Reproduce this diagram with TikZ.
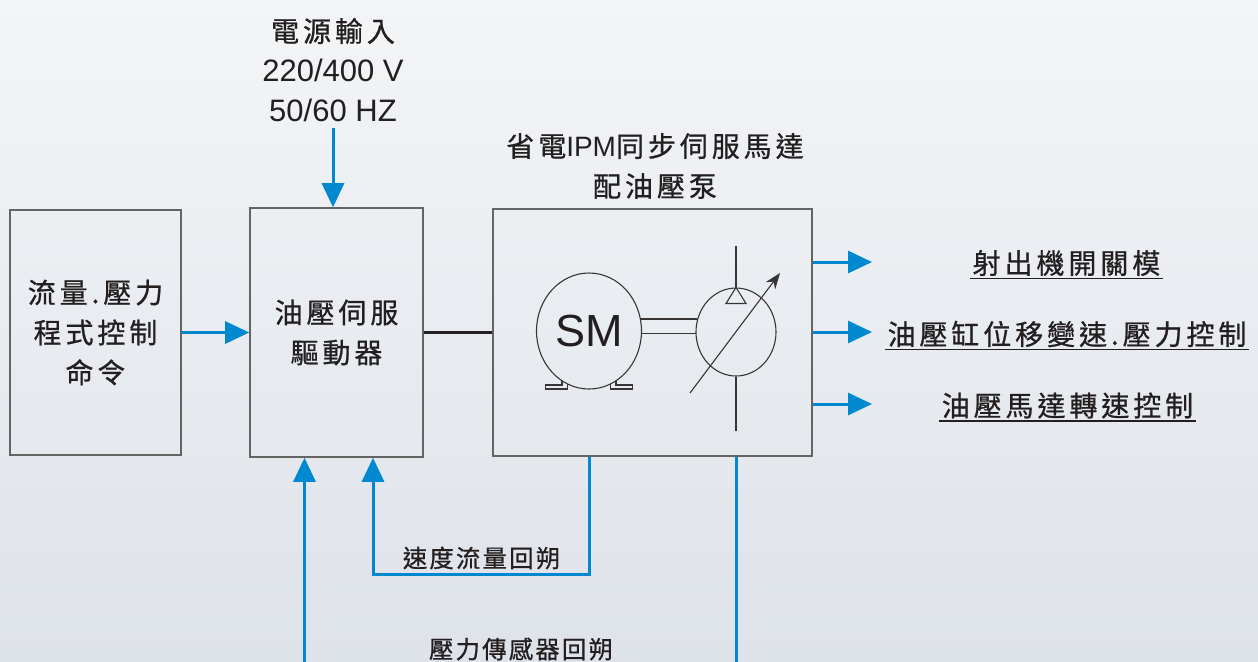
\documentclass[tikz,border=0pt]{standalone}
\usepackage{fontspec}
\setmainfont{Liberation Sans}
\newfontfamily\cjk[LetterSpace=14, FakeBold=0.8]{Noto Sans CJK TC}
\newfontfamily\cjksm[LetterSpace=9, FakeBold=0.8]{Noto Sans CJK TC}
\usetikzlibrary{arrows.meta,shapes.geometric}

\definecolor{flowblue}{RGB}{0,136,209}
\definecolor{ink}{RGB}{35,31,32}
\definecolor{boxgray}{RGB}{100,100,100}
\definecolor{bgtop}{RGB}{243,245,247}
\definecolor{bgbot}{RGB}{222,226,233}

\tikzstyle{block}=[draw=boxgray, line width=0.8pt]
\tikzstyle{txt}=[text=ink, align=center, font=\cjk\fontsize{14}{20}\selectfont]
\tikzstyle{fbtxt}=[text=ink, font=\cjksm\fontsize{12.2}{14}\selectfont]
\tikzstyle{outtxt}=[txt, inner xsep=1pt, inner ysep=1pt]
\tikzstyle{uline}=[ink, line width=0.8pt]
\tikzstyle{flow}=[flowblue, line width=1.5pt, -{Triangle[length=12pt,width=11pt]}]
\tikzstyle{shaft}=[ink, line width=1.6pt]
\tikzstyle{sym}=[draw=ink!90, line width=0.55pt]

\begin{document}
\begin{tikzpicture}[x=0.5pt, y=-0.5pt]
  \shade[top color=bgtop, bottom color=bgbot] (0,0) rectangle (1258,661);
  \useasboundingbox (0,0) rectangle (1258,661);

  \node[block, txt, minimum width=85.5pt, minimum height=122.5pt] (cmd) at (95.5,332.5) {流量.壓力\\程式控制\\命令};
  \node[block, txt, minimum width=86.5pt, minimum height=124.5pt] (drv) at (336.5,332.5) {油壓伺服\\驅動器};
  \node[block, minimum width=159.5pt, minimum height=123.5pt] (mot) at (652.5,332.5) {};

  \node[txt, font=\fontsize{15.5}{20}\selectfont, inner sep=3pt] (pwr) at (333,70) {{\cjk\fontsize{14}{20}\selectfont 電源輸入}\\220/400 V\\50/60 HZ};
  \node[txt] (ttl) at (655,166) {省電{\rmfamily IPM}同步伺服馬達\\配油壓泵};

  \node[sym, ellipse, minimum width=52.5pt, minimum height=58pt, inner sep=0pt, text=ink, font=\fontsize{22.5}{24}\selectfont] (sm) at (589,331) {SM};
  \node[sym, ellipse, minimum width=40pt, minimum height=44pt, inner sep=0pt] (pump) at (736,332) {};

  \draw[sym] (sm.13) -- (sm.13 -| pump.162);
  \draw[sym] (sm.357) -- (sm.357 -| pump.183);
  \foreach \s in {1,-1}
    \draw[sym, shift={(sm.center)}, xscale=\s] (-27,49.7) |- (-43.3,54) |- (-21.7,58) -- (-21.7,52.8);
  \draw[sym] (pump.north) -- ++(0,-41);
  \draw[sym] (pump.south) -- ++(0,54);
  \draw[sym] (pump.north) -- ++(-10,16) -- ++(20,0) -- cycle;
  \draw[sym, -{Stealth[length=8pt,width=6pt]}] ([shift={(-46,61)}]pump.center) -- ([shift={(44,-59)}]pump.center);

  \draw[flow] (cmd) -- (drv);
  \draw[flow] (pwr.south) -- (pwr.south |- drv.north);
  \draw[shaft] (drv) -- (mot);

  \node[outtxt] (o1) at (1066.5,263) {射出機開關模};
  \node[outtxt] (o2) at (1067,334) {油壓缸位移變速.壓力控制};
  \node[outtxt] (o3) at (1067.5,405.5) {油壓馬達轉速控制};
  \coordinate (t1) at (872,262);
  \coordinate (t2) at (872,332);
  \coordinate (t3) at (872,404);
  \foreach \i in {1,2,3} {
    \draw[flow] (mot.east |- t\i) -- (t\i);
    \draw[uline] (o\i.south west) -- (o\i.south east);
  }

  \coordinate (din1) at ([xshift=-16pt]drv.south);
  \coordinate (din2) at ([xshift=18.25pt]drv.south);
  \node[fbtxt] (spd) at (481.5,558) {速度流量回朔};
  \node[fbtxt] (prs) at (521,649) {壓力傳感器回朔};
  \coordinate (spdline) at (481.5,574);
  \coordinate (prsline) at (521,690);
  \draw[flow] (sm.center |- mot.south) |- (spdline) -| (din2);
  \draw[flow] (pump.center |- mot.south) |- (prsline) -| (din1);
\end{tikzpicture}
\end{document}
